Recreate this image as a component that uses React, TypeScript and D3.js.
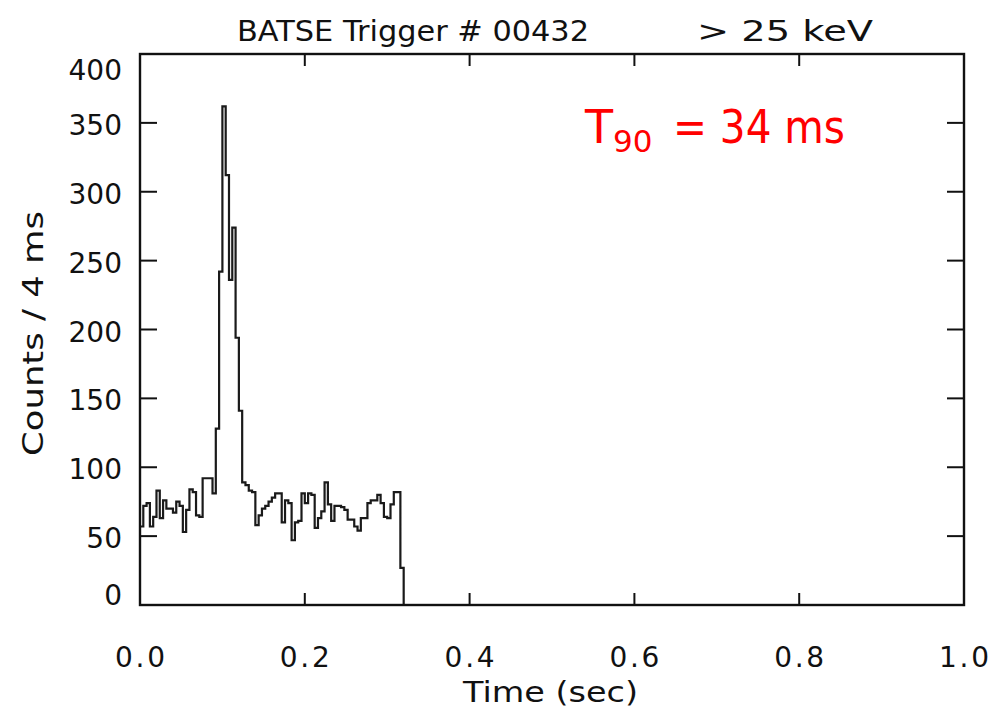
import React from "react";
import * as d3 from "d3";

const counts: number[] = [
  57, 72, 74, 57, 64, 83, 63, 76, 70, 70,
  67, 75, 72, 53, 69, 84, 82, 65, 64, 92,
  92, 92, 81, 128, 242, 362, 312, 236, 274, 194,
  141, 89, 87, 83, 82, 58, 65, 70, 72, 75,
  78, 81, 81, 60, 76, 74, 47, 60, 61, 81,
  74, 81, 80, 56, 63, 68, 89, 73, 61, 72,
  72, 71, 69, 62, 62, 57, 54, 63, 63, 74,
  76, 76, 80, 74, 64, 63, 73, 82, 82, 27,
];
const binWidth = 0.004;
const xTicks: number[] = [0, 0.2, 0.4, 0.6, 0.8, 1.0];
const yTicks: number[] = [0, 50, 100, 150, 200, 250, 300, 350, 400];
const titleLeft = "BATSE Trigger # 00432";
const titleRight = "> 25 keV";
const xTitle = "Time (sec)";
const yTitle = "Counts / 4 ms";

const W = 991;
const H = 716;
const L = 140, R = 964, T = 54, B = 605;
const FONT = "'DejaVu Sans', sans-serif";

export default function App() {
  const x = d3.scaleLinear().domain([0, 1]).range([L, R]);
  const y = d3.scaleLinear().domain([0, 400]).range([B, T]);

  const pts: [number, number][] = counts.map((c, i) => [i * binWidth, c]);
  const tEnd = counts.length * binWidth;
  pts.push([tEnd, counts[counts.length - 1]]);
  pts.push([tEnd, 0]);
  const line = d3
    .line<[number, number]>()
    .x((d) => x(d[0]))
    .y((d) => y(d[1]))
    .curve(d3.curveStepAfter);

  const ytl = 17;
  const xtl = 12;
  const fs = 28;

  return (
    <svg
      width={W}
      height={H}
      style={{ position: "absolute", left: 0, top: 0, background: "#fff" }}
      fontFamily={FONT}
    >
      <rect x={0} y={0} width={W} height={H} fill="#fff" />
      <path d={line(pts) || ""} fill="none" stroke="#1a1a1a" strokeWidth={2.2} />
      <rect x={L} y={T} width={R - L} height={B - T} fill="none" stroke="#111" strokeWidth={2.4} />
      {xTicks.map((v) => (
        <g key={"x" + v}>
          <line x1={x(v)} x2={x(v)} y1={B} y2={B - xtl} stroke="#111" strokeWidth={2} />
          <line x1={x(v)} x2={x(v)} y1={T} y2={T + xtl} stroke="#111" strokeWidth={2} />
          <text
            x={x(v)}
            y={667}
            textAnchor="middle"
            fontSize={fs}
            fill="#111"
            textLength={50}
            lengthAdjust="spacing"
          >
            {v.toFixed(1)}
          </text>
        </g>
      ))}
      {yTicks.map((v) => {
        const cy = Math.min(B - 10, Math.max(T + 16, y(v) + 2));
        return (
          <g key={"y" + v}>
            <line x1={L} x2={L + ytl} y1={y(v)} y2={y(v)} stroke="#111" strokeWidth={2} />
            <line x1={R} x2={R - ytl} y1={y(v)} y2={y(v)} stroke="#111" strokeWidth={2} />
            <text x={122} y={cy + 10} textAnchor="end" fontSize={fs} fill="#111">
              {v}
            </text>
          </g>
        );
      })}
      <text x={237} y={41} fontSize={fs} fill="#111" textLength={352} lengthAdjust="spacingAndGlyphs">
        {titleLeft}
      </text>
      <text x={697} y={41} fontSize={fs} fill="#111" textLength={176} lengthAdjust="spacingAndGlyphs">
        {titleRight}
      </text>
      <text x={463} y={702} fontSize={fs} fill="#111" textLength={175} lengthAdjust="spacingAndGlyphs">
        {xTitle}
      </text>
      <text
        transform={`translate(43, 456) rotate(-90)`}
        fontSize={fs}
        fill="#111"
        textLength={245}
        lengthAdjust="spacingAndGlyphs"
      >
        {yTitle}
      </text>
      <g fill="#ff0000">
        <text x={585} y={143} fontSize={46}>T</text>
        <text x={613} y={152} fontSize={31}>90</text>
        <text x={673} y={143} fontSize={46} textLength={172} lengthAdjust="spacingAndGlyphs">
          = 34 ms
        </text>
      </g>
    </svg>
  );
}
